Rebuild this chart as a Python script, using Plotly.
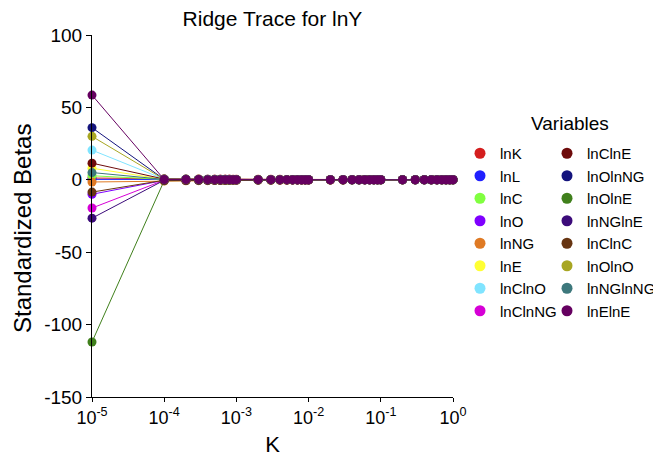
import plotly.graph_objects as go

K = [1e-5,
     1e-4, 2e-4, 3e-4, 4e-4, 5e-4, 6e-4, 7e-4, 8e-4, 9e-4,
     1e-3, 2e-3, 3e-3, 4e-3, 5e-3, 6e-3, 7e-3, 8e-3, 9e-3,
     1e-2, 2e-2, 3e-2, 4e-2, 5e-2, 6e-2, 7e-2, 8e-2, 9e-2,
     0.1, 0.2, 0.3, 0.4, 0.5, 0.6, 0.7, 0.8, 0.9,
     1.0]

x_tickvals = [1e-5, 1e-4, 1e-3, 1e-2, 1e-1, 1e0]
x_ticktext = ["10<sup>-5</sup>", "10<sup>-4</sup>", "10<sup>-3</sup>",
              "10<sup>-2</sup>", "10<sup>-1</sup>", "10<sup>0</sup>"]
y_tickvals = [-150, -100, -50, 0, 50, 100]
y_ticktext = ["-150", "-100", "-50", "0", "50", "100"]

variables = ["lnK", "lnL", "lnC", "lnO", "lnNG", "lnE", "lnClnO", "lnClnNG",
             "lnClnE", "lnOlnNG", "lnOlnE", "lnNGlnE", "lnClnC", "lnOlnO", "lnNGlnNG", "lnElnE"]

colors = ["#d41e1e", "#2020ff", "#80ff40", "#7f00ff", "#df7a24", "#ffff33", "#80e4ff", "#d600d6",
          "#6e0b0b", "#14147d", "#40801c", "#3c0b7a", "#673512", "#a8a622", "#3d787c", "#650060"]

lnK = [1.2,
       0.6, 0.5, 0.5, 0.4, 0.4, 0.4, 0.4, 0.3, 0.3,
       0.3, 0.3, 0.3, 0.3, 0.2, 0.2, 0.2, 0.2, 0.2,
       0.2, 0.2, 0.2, 0.2, 0.2, 0.2, 0.1, 0.1, 0.1,
       0.1, 0.1, 0.1, 0.1, 0.1, 0.1, 0.1, 0.1, 0.1,
       0.1]
lnL = [0.3,
       0.2, 0.2, 0.2, 0.2, 0.2, 0.2, 0.1, 0.1, 0.1,
       0.1, 0.1, 0.1, 0.1, 0.1, 0.1, 0.1, 0.1, 0.1,
       0.1, 0.1, 0.1, 0.1, 0.1, 0.1, 0.1, 0.1, 0.1,
       0.1, 0.1, 0.0, 0.0, 0.0, 0.0, 0.0, 0.0, 0.0,
       0.0]
lnC = [2.8,
       0.3, 0.3, 0.3, 0.2, 0.2, 0.2, 0.2, 0.2, 0.2,
       0.2, 0.2, 0.1, 0.1, 0.1, 0.1, 0.1, 0.1, 0.1,
       0.1, 0.1, 0.1, 0.1, 0.1, 0.1, 0.1, 0.1, 0.1,
       0.0, 0.0, 0.0, 0.0, 0.0, 0.0, 0.0, 0.0, 0.0,
       0.0]
lnO = [-10.0,
       -0.4, -0.3, -0.3, -0.3, -0.2, -0.2, -0.2, -0.2, -0.2,
       -0.2, -0.1, -0.1, -0.1, -0.1, -0.1, -0.1, -0.1, -0.1,
       -0.1, -0.1, -0.1, -0.1, -0.1, -0.1, 0.0, 0.0, 0.0,
       0.0, 0.0, 0.0, 0.0, 0.0, 0.0, 0.0, 0.0, 0.0,
       0.0]
lnNG = [-1.5,
        -0.8, -0.7, -0.6, -0.6, -0.5, -0.5, -0.5, -0.4, -0.4,
        -0.4, -0.3, -0.3, -0.3, -0.3, -0.2, -0.2, -0.2, -0.2,
        -0.2, -0.2, -0.2, -0.1, -0.1, -0.1, -0.1, -0.1, -0.1,
        -0.1, -0.1, -0.1, -0.1, -0.1, -0.1, -0.1, -0.1, -0.1,
        -0.1]
lnE = [8.0,
       0.3, 0.3, 0.2, 0.2, 0.2, 0.2, 0.2, 0.2, 0.2,
       0.2, 0.1, 0.1, 0.1, 0.1, 0.1, 0.1, 0.1, 0.1,
       0.1, 0.1, 0.1, 0.1, 0.1, 0.1, 0.1, 0.1, 0.1,
       0.0, 0.0, 0.0, 0.0, 0.0, 0.0, 0.0, 0.0, 0.0,
       0.0]
lnClnO = [20.5,
          0.4, 0.3, 0.3, 0.3, 0.2, 0.2, 0.2, 0.2, 0.2,
          0.2, 0.1, 0.1, 0.1, 0.1, 0.1, 0.1, 0.1, 0.1,
          0.1, 0.1, 0.1, 0.1, 0.1, 0.1, 0.0, 0.0, 0.0,
          0.0, 0.0, 0.0, 0.0, 0.0, 0.0, 0.0, 0.0, 0.0,
          0.0]
lnClnNG = [-19.5,
           -0.3, -0.3, -0.2, -0.2, -0.2, -0.2, -0.2, -0.1, -0.1,
           -0.1, -0.1, -0.1, -0.1, -0.1, -0.1, -0.1, -0.1, -0.1,
           -0.1, -0.1, 0.0, 0.0, 0.0, 0.0, 0.0, 0.0, 0.0,
           0.0, 0.0, 0.0, 0.0, 0.0, 0.0, 0.0, 0.0, 0.0,
           0.0]
lnClnE = [11.5,
          0.5, 0.4, 0.4, 0.3, 0.3, 0.3, 0.3, 0.3, 0.2,
          0.2, 0.2, 0.2, 0.2, 0.1, 0.1, 0.1, 0.1, 0.1,
          0.1, 0.1, 0.1, 0.1, 0.1, 0.1, 0.1, 0.1, 0.1,
          0.1, 0.1, 0.1, 0.1, 0.0, 0.0, 0.0, 0.0, 0.0,
          0.0]
lnOlnNG = [36.0,
           0.3, 0.3, 0.2, 0.2, 0.2, 0.2, 0.2, 0.2, 0.1,
           0.1, 0.1, 0.1, 0.1, 0.1, 0.1, 0.1, 0.1, 0.1,
           0.1, 0.1, 0.0, 0.0, 0.0, 0.0, 0.0, 0.0, 0.0,
           0.0, 0.0, 0.0, 0.0, 0.0, 0.0, 0.0, 0.0, 0.0,
           0.0]
lnOlnE = [-112.0,
          -0.6, -0.5, -0.4, -0.4, -0.3, -0.3, -0.3, -0.3, -0.2,
          -0.2, -0.2, -0.2, -0.1, -0.1, -0.1, -0.1, -0.1, -0.1,
          -0.1, -0.1, -0.1, -0.1, -0.1, 0.0, 0.0, 0.0, 0.0,
          0.0, 0.0, 0.0, 0.0, 0.0, 0.0, 0.0, 0.0, 0.0,
          0.0]
lnNGlnE = [-26.5,
           -0.3, -0.3, -0.2, -0.2, -0.2, -0.2, -0.1, -0.1, -0.1,
           -0.1, -0.1, -0.1, -0.1, -0.1, -0.1, -0.1, -0.1, -0.1,
           -0.1, 0.0, 0.0, 0.0, 0.0, 0.0, 0.0, 0.0, 0.0,
           0.0, 0.0, 0.0, 0.0, 0.0, 0.0, 0.0, 0.0, 0.0,
           0.0]
lnClnC = [-8.5,
          -0.3, -0.3, -0.2, -0.2, -0.2, -0.2, -0.2, -0.1, -0.1,
          -0.1, -0.1, -0.1, -0.1, -0.1, -0.1, -0.1, -0.1, -0.1,
          -0.1, -0.1, -0.1, 0.0, 0.0, 0.0, 0.0, 0.0, 0.0,
          0.0, 0.0, 0.0, 0.0, 0.0, 0.0, 0.0, 0.0, 0.0,
          0.0]
lnOlnO = [30.0,
          0.3, 0.2, 0.2, 0.2, 0.2, 0.2, 0.1, 0.1, 0.1,
          0.1, 0.1, 0.1, 0.1, 0.1, 0.1, 0.1, 0.1, 0.1,
          0.1, 0.0, 0.0, 0.0, 0.0, 0.0, 0.0, 0.0, 0.0,
          0.0, 0.0, 0.0, 0.0, 0.0, 0.0, 0.0, 0.0, 0.0,
          0.0]
lnNGlnNG = [5.0,
            0.3, 0.3, 0.2, 0.2, 0.2, 0.2, 0.2, 0.1, 0.1,
            0.1, 0.1, 0.1, 0.1, 0.1, 0.1, 0.1, 0.1, 0.1,
            0.1, 0.1, 0.1, 0.0, 0.0, 0.0, 0.0, 0.0, 0.0,
            0.0, 0.0, 0.0, 0.0, 0.0, 0.0, 0.0, 0.0, 0.0,
            0.0]
lnElnE = [58.5,
          0.2, 0.2, 0.2, 0.1, 0.1, 0.1, 0.1, 0.1, 0.1,
          0.1, 0.1, 0.1, 0.1, 0.1, 0.1, 0.1, 0.0, 0.0,
          0.0, 0.0, 0.0, 0.0, 0.0, 0.0, 0.0, 0.0, 0.0,
          0.0, 0.0, 0.0, 0.0, 0.0, 0.0, 0.0, 0.0, 0.0,
          0.0]

series = [lnK, lnL, lnC, lnO, lnNG, lnE, lnClnO, lnClnNG,
          lnClnE, lnOlnNG, lnOlnE, lnNGlnE, lnClnC, lnOlnO, lnNGlnNG, lnElnE]

FONT = "Liberation Sans, Arial, sans-serif"
# the page body adds an 8px margin, so the figure is 8px smaller than the window
W, H = 653, 449
L, T = 84, 27
PW, PH = 361, 362
R, B = W - L - PW, H - T - PH


def px_x(x):  # figure pixel -> paper x
    return (x - L) / PW


def px_y(y):  # figure pixel -> paper y
    return (PH - (y - T)) / PH


fig = go.Figure()
for name, col, vals in zip(variables, colors, series):
    fig.add_trace(go.Scatter(
        x=K, y=vals, mode="lines+markers", name=name,
        line=dict(color=col, width=1),
        marker=dict(color=col, size=9),
        showlegend=False, cliponaxis=False,
    ))

# legend entries (markers only), split into two columns
for i, (name, col) in enumerate(zip(variables, colors)):
    fig.add_trace(go.Scatter(
        x=[None], y=[None], mode="markers", name=name,
        marker=dict(color=col, size=11),
        legend="legend" if i < 8 else "legend2",
        showlegend=True,
    ))

legend_common = dict(
    font=dict(family=FONT, size=15, color="#000"),
    bgcolor="rgba(0,0,0,0)", borderwidth=0,
    xref="paper", yref="paper",
    xanchor="left", yanchor="top",
    itemclick=False, itemdoubleclick=False,
)

fig.update_layout(
    width=W, height=H,
    margin=dict(l=L, r=R, t=T, b=B, autoexpand=False),
    paper_bgcolor="white", plot_bgcolor="white",
    font=dict(family=FONT, size=19, color="#000"),
    title=dict(text="Ridge Trace for lnY", x=(L + PW / 2) / W, xanchor="center",
               y=1 - 11 / H, yanchor="middle", font=dict(size=21, color="#000")),
    xaxis=dict(
        type="log", range=[-5, 0], tickvals=x_tickvals, ticktext=x_ticktext,
        showgrid=False, zeroline=False, showline=True, linecolor="#000", linewidth=1,
        ticks="outside", ticklen=4, tickcolor="#000", automargin=False,
        tickfont=dict(size=18),
        title=dict(text="K", font=dict(size=22), standoff=19),
    ),
    yaxis=dict(
        range=[-150, 100], tickvals=y_tickvals, ticktext=y_ticktext,
        showgrid=False, zeroline=False, showline=True, linecolor="#000", linewidth=1,
        ticks="outside", ticklen=5, tickcolor="#000", automargin=False,
        tickfont=dict(size=19),
    ),
    legend=dict(x=px_x(452), y=px_y(129), **legend_common),
    legend2=dict(x=px_x(539), y=px_y(129), **legend_common),
    annotations=[
        dict(text="Variables", xref="paper", yref="paper",
             x=px_x(562), y=px_y(115),
             xanchor="center", yanchor="middle", showarrow=False,
             font=dict(family=FONT, size=19, color="#000")),
        dict(text="Standardized Betas", xref="paper", yref="paper",
             x=px_x(14), y=px_y(221), textangle=-90, borderpad=0,
             xanchor="center", yanchor="middle", showarrow=False,
             font=dict(family=FONT, size=24, color="#000")),
    ],
)

fig.write_html("out.html")
